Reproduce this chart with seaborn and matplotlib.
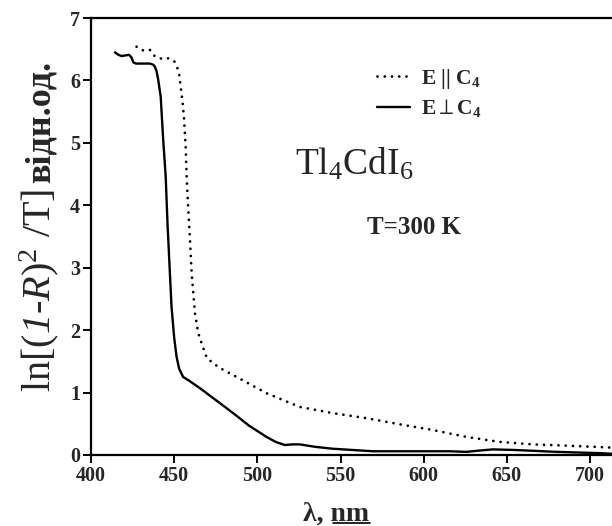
import matplotlib
matplotlib.use("Agg")
import matplotlib.pyplot as plt
from matplotlib.lines import Line2D
import seaborn as sns

# E perpendicular to C4 (solid line)
perp_nm = [414.4, 416.5, 418.4, 420.5, 423.0, 424.5, 425.4, 427.0, 429.4, 435.4, 437.5,
           438.4, 439.5, 440.4, 441.9, 443.4, 444.9, 446.0, 448.4, 450.0, 451.4, 453.0,
           455.4, 458.4, 465.5, 471.0, 478.0, 485.5, 495.0, 505.5, 511.0, 516.5, 521.0,
           525.5, 535.0, 545.5, 569.5, 615.6, 625.6, 633.0, 641.6, 655.0, 680.0, 705.7, 713.0]
perp_val = [6.45, 6.41, 6.39, 6.40, 6.41, 6.36, 6.29, 6.27, 6.27, 6.27, 6.25,
            6.22, 6.14, 6.01, 5.74, 5.05, 4.46, 3.70, 2.38, 1.88, 1.58, 1.38,
            1.25, 1.20, 1.07, 0.96, 0.82, 0.67, 0.47, 0.29, 0.21, 0.16, 0.17,
            0.17, 0.13, 0.10, 0.06, 0.06, 0.05, 0.07, 0.09, 0.08, 0.05, 0.03, 0.02]

# E parallel to C4 (dotted line)
par_nm = [427.4, 431.4, 435.4, 437.8, 441.4, 445.8, 450.0, 451.8, 453.0, 453.6, 455.1,
          455.9, 456.9, 457.5, 458.4, 459.5, 460.5, 462.5, 464.5, 466.5, 469.7, 477.0,
          485.5, 505.5, 525.5, 545.5, 565.5, 588.0, 605.6, 625.6, 645.6, 665.6, 685.7, 711.7]
par_val = [6.54, 6.48, 6.49, 6.40, 6.35, 6.36, 6.31, 6.21, 6.10, 5.97, 5.64,
           5.40, 4.94, 4.46, 3.98, 3.45, 2.91, 2.27, 1.95, 1.79, 1.55, 1.40,
           1.28, 0.99, 0.77, 0.67, 0.59, 0.48, 0.40, 0.29, 0.21, 0.17, 0.15, 0.12]

x_ticks = [400, 450, 500, 550, 600, 650, 700]
y_ticks = [0, 1, 2, 3, 4, 5, 6, 7]

sns.set_style("ticks")
plt.rcParams["font.family"] = ["Liberation Serif", "DejaVu Serif"]
plt.rcParams["mathtext.fontset"] = "custom"
plt.rcParams["mathtext.rm"] = "Liberation Serif"
plt.rcParams["mathtext.it"] = "Liberation Serif:italic"
plt.rcParams["mathtext.cal"] = "Liberation Serif:italic"
plt.rcParams["mathtext.bf"] = "Liberation Serif:bold"
plt.rcParams["mathtext.default"] = "regular"

fig = plt.figure(figsize=(6.12, 5.26), dpi=100)
ax = fig.add_axes([91 / 612, 71 / 526, 1 - 91 / 612, 437 / 526])

sns.lineplot(x=par_nm, y=par_val, ax=ax, color="black", lw=2.0,
             label=r"E || C$_4$")
sns.lineplot(x=perp_nm, y=perp_val, ax=ax, color="black", lw=1.7,
             label=r"E$\perp$C$_4$")
dotted = ax.lines[0]
dotted.set_linestyle((0, (0.01, 2.6)))
dotted.set_dash_capstyle("round")

ax.set_xlim(400, 713.2)
ax.set_ylim(0, 7)
ax.set_xticks(x_ticks)
ax.set_yticks(y_ticks)
ax.set_xlabel("")
ax.set_ylabel("")

for side in ["left", "bottom", "top"]:
    ax.spines[side].set_linewidth(1.6)
    ax.spines[side].set_color("black")
ax.spines["right"].set_visible(False)

ax.tick_params(axis="both", direction="out", length=6, width=1.4, color="black",
               labelsize=14.5, pad=2)
for lab in ax.get_xticklabels() + ax.get_yticklabels():
    lab.set_fontweight("bold")

leg = ax.legend(loc="upper left", bbox_to_anchor=(0.549, 0.888), frameon=False,
                borderpad=0, borderaxespad=0, handlelength=1.55, handletextpad=0.5,
                labelspacing=0.3, prop={"family": "Liberation Serif", "weight": "bold",
                                        "size": 15.5})

ax.text(522.6, 4.65, r"Tl$_4$CdI$_6$", fontsize=27, ha="left", va="center")
ax.text(565.9, 3.64, "T=300 K", fontsize=18, fontweight="bold", ha="left", va="center")

fig.text(50 / 612, 1 - 392 / 526, r"ln[($\mathcal{1}$-$\mathcal{R}$)$^2$ /T]",
         fontsize=29, rotation=90, rotation_mode="anchor", ha="left", va="baseline")
fig.text(50 / 612, 1 - 183 / 526, "відн.од.", fontsize=26, fontweight="bold",
         rotation=90, rotation_mode="anchor", ha="left", va="baseline")
fig.text(336 / 612, 5 / 526, "λ, nm", fontsize=20, fontweight="bold",
         ha="center", va="baseline")
# underline under "nm"
fig.add_artist(Line2D([333 / 612, 370 / 612], [3 / 526, 3 / 526], color="black", lw=1.2))

fig.savefig("out.png", dpi=100)
